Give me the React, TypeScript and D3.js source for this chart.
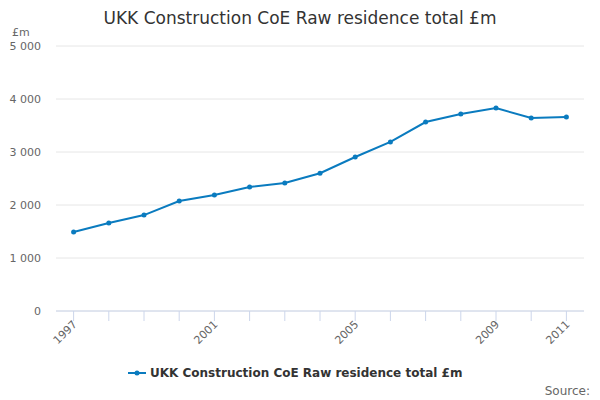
import * as d3 from "d3";

const years = [1997, 1998, 1999, 2000, 2001, 2002, 2003, 2004, 2005, 2006, 2007, 2008, 2009, 2010, 2011];
const values = [1490, 1660, 1810, 2075, 2190, 2340, 2415, 2600, 2905, 3190, 3565, 3715, 3830, 3640, 3660];
const yTicks = [0, 1000, 2000, 3000, 4000, 5000];
const labelYears = [1997, 2001, 2005, 2009, 2011];
const title = "UKK Construction CoE Raw residence total £m";

export default function App() {
  const W = 600, H = 400;
  const left = 56, right = 584, top = 46, bottom = 311;
  const x = d3.scaleLinear().domain([1996.5, 2011.5]).range([56, 584]);
  const y = d3.scaleLinear().domain([0, 5000]).range([bottom, top]);
  const line = d3.line<number>().x((_, i) => x(years[i])).y((d) => y(d));
  const fmt = (v: number) => d3.format(",")(v).replace(/,/g, " ");
  const color = "#0a7bbf";
  return (
    <svg width={W} height={H} style={{ position: "absolute", left: 0, top: 0, fontFamily: "DejaVu Sans" }}>
      <text x={W / 2} y={24} textAnchor="middle" fontSize={17} fill="#333">{title}</text>
      <text x={12} y={36} fontSize={11} fill="#666">£m</text>
      {yTicks.map((t) => (
        <g key={t}>
          <line x1={left} x2={right} y1={y(t)} y2={y(t)} stroke="#e6e6e6" />
          <text x={41} y={y(t) + 4} textAnchor="end" fontSize={11} fill="#666">{fmt(t)}</text>
        </g>
      ))}
      <line x1={left} x2={right} y1={bottom} y2={bottom} stroke="#ccd6eb" />
      {years.map((yr) => (
        <line key={yr} x1={x(yr)} x2={x(yr)} y1={bottom} y2={bottom + 10} stroke="#ccd6eb" />
      ))}
      {labelYears.map((yr) => (
        <text key={yr} transform={`translate(${x(yr) + 4},${bottom + 14}) rotate(-45)`} textAnchor="end" fontSize={11} fill="#666">{yr}</text>
      ))}
      <path d={line(values) ?? ""} fill="none" stroke={color} strokeWidth={2} />
      {values.map((v, i) => (
        <circle key={i} cx={x(years[i])} cy={y(v)} r={2.5} fill={color} />
      ))}
      <line x1={128} x2={146} y1={373} y2={373} stroke={color} strokeWidth={2} />
      <circle cx={137} cy={373} r={2.5} fill={color} />
      <text x={150} y={377} fontSize={12} fontWeight="bold" fill="#333">{title}</text>
      <text x={590} y={395} textAnchor="end" fontSize={12} fill="#666">Source:</text>
    </svg>
  );
}
